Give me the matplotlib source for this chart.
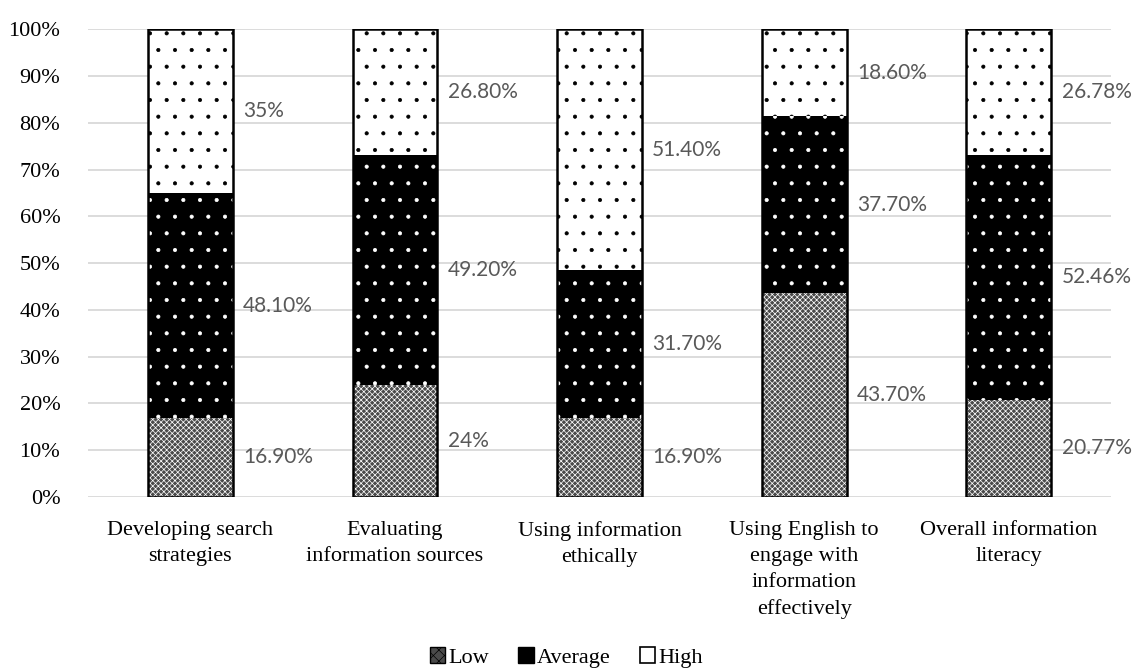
import numpy as np
import matplotlib
matplotlib.use("Agg")
import matplotlib.pyplot as plt
from matplotlib.patches import Patch

categories = [
    "Developing search\nstrategies",
    "Evaluating\ninformation sources",
    "Using information\nethically",
    "Using English to\nengage with\ninformation\neffectively",
    "Overall information\nliteracy",
]
low = [16.9, 24.0, 16.9, 43.7, 20.77]
average = [48.1, 49.2, 31.7, 37.7, 52.46]
high = [35.0, 26.8, 51.4, 18.6, 26.78]
low_labels = ["16.90%", "24%", "16.90%", "43.70%", "20.77%"]
average_labels = ["48.10%", "49.20%", "31.70%", "37.70%", "52.46%"]
high_labels = ["35%", "26.80%", "51.40%", "18.60%", "26.78%"]

serif = "Liberation Serif"
plt.rcParams["hatch.linewidth"] = 0.5

fig = plt.figure(figsize=(11.33, 6.68), dpi=100)
ax = fig.add_axes([0.0777, 0.256, 0.903, 0.7])

x = np.arange(len(categories))
width = 0.415
low_arr = np.array(low)
avg_arr = np.array(average)
high_arr = np.array(high)

# segments: hatch colour follows the edge colour
ax.bar(x, low_arr, width, color="#4a4a4a", edgecolor="white", hatch="xxxxxx", linewidth=0)
ax.bar(x, avg_arr, width, bottom=low_arr, color="black", edgecolor="white", hatch=".", linewidth=0)
ax.bar(x, high_arr, width, bottom=low_arr + avg_arr, color="white", edgecolor="black", hatch=".", linewidth=0)
# outline of each stacked bar
ax.bar(x, low_arr + avg_arr + high_arr, width, fill=False, edgecolor="black", linewidth=1.8)

# value labels to the right of each segment
label_kw = dict(fontsize=15, color="#595959", family="Lato", va="center", ha="left")
for i in range(len(categories)):
    xr = x[i] + width / 2 + 0.05
    ax.text(xr, low[i] / 2, low_labels[i], **label_kw)
    ax.text(xr, low[i] + average[i] / 2, average_labels[i], **label_kw)
    ax.text(xr, low[i] + average[i] + high[i] / 2, high_labels[i], **label_kw)

ax.set_xlim(-0.5, len(categories) - 0.5)
ax.set_ylim(0, 100)
ax.set_yticks(np.arange(0, 101, 10))
ax.set_yticklabels([f"{v}%" for v in range(0, 101, 10)], fontsize=16, family=serif)
ax.set_xticks(x)
ax.set_xticklabels(categories, fontsize=16, family=serif, linespacing=1.5)
ax.tick_params(axis="y", length=0, pad=20)
ax.tick_params(axis="x", length=0, pad=17)
ax.yaxis.grid(True, color="#d9d9d9", linewidth=1.3)
ax.set_axisbelow(True)
for s in ax.spines.values():
    s.set_visible(False)

handles = [
    Patch(facecolor="#4a4a4a", edgecolor="black", hatch="xxx", linewidth=1),
    Patch(facecolor="black", edgecolor="black", linewidth=1),
    Patch(facecolor="white", edgecolor="black", linewidth=1.2),
]
fig.legend(handles, ["Low", "Average", "High"], loc="lower center", ncol=3,
           bbox_to_anchor=(0.5, -0.03), frameon=False,
           prop={"family": serif, "size": 16},
           handlelength=0.7, handleheight=0.7, handletextpad=0.15, columnspacing=1.3)

fig.savefig("out.png", dpi=100)
